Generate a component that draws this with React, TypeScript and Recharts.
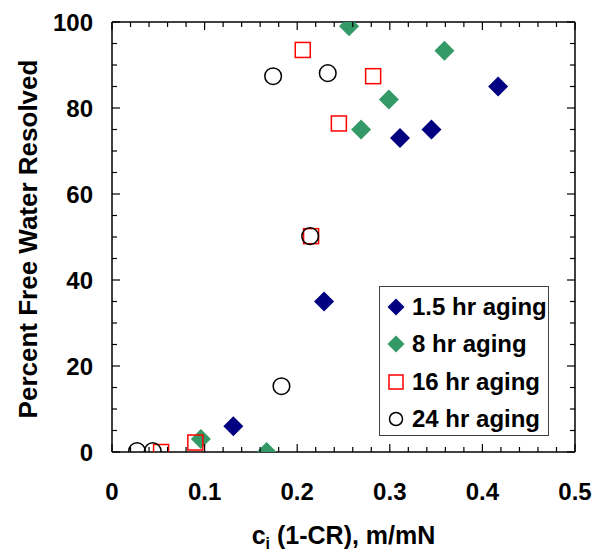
import { ScatterChart, Scatter, XAxis, YAxis, Legend } from "recharts";

const FONT = "'Liberation Sans', Arial, Helvetica, sans-serif";

// series
const names = ["1.5 hr aging", "8 hr aging", "16 hr aging", "24 hr aging"];

const aging15X = [0.131, 0.229, 0.311, 0.345, 0.417];
const aging15Y = [6, 35, 73, 75, 85];

const aging8X = [0.096, 0.167, 0.256, 0.269, 0.299, 0.359];
const aging8Y = [3, 0, 99, 75, 82, 93.3];

const aging16X = [0.053, 0.09, 0.206, 0.215, 0.245, 0.282];
const aging16Y = [0, 2.2, 93.5, 50.2, 76.4, 87.4];

const aging24X = [0.027, 0.044, 0.174, 0.183, 0.214, 0.233];
const aging24Y = [0.2, 0.2, 87.4, 15.3, 50.2, 88.1];

const xTicks = [
  0, 0.02, 0.04, 0.06, 0.08, 0.1, 0.12, 0.14, 0.16, 0.18, 0.2, 0.22, 0.24,
  0.26, 0.28, 0.3, 0.32, 0.34, 0.36, 0.38, 0.4, 0.42, 0.44, 0.46, 0.48, 0.5,
];
const xLabels = [0, 0.1, 0.2, 0.3, 0.4, 0.5];
const yTicks = [
  0, 5, 10, 15, 20, 25, 30, 35, 40, 45, 50, 55, 60, 65, 70, 75, 80, 85, 90,
  95, 100,
];
const yLabels = [0, 20, 40, 60, 80, 100];

const toPoints = (xs: number[], ys: number[]) =>
  xs.map((x, i) => ({ x, y: ys[i] }));

const isLabel = (list: number[], v: number) =>
  list.some((l) => Math.abs(l - v) < 1e-9);

const textStyle = {
  fontFamily: FONT,
  fontWeight: 700,
  fill: "#000",
};

// ---- markers ----
const diamond = (color: string, r: number) => (props: any) => {
  const { cx, cy } = props;
  return (
    <polygon
      points={`${cx},${cy - r} ${cx + r},${cy} ${cx},${cy + r} ${cx - r},${cy}`}
      fill={color}
    />
  );
};

const square = (color: string, h: number) => (props: any) => {
  const { cx, cy } = props;
  return (
    <rect
      x={cx - h}
      y={cy - h}
      width={h * 2}
      height={h * 2}
      fill="none"
      stroke={color}
      strokeWidth={1.5}
    />
  );
};

const circle = (color: string, r: number) => (props: any) => {
  const { cx, cy } = props;
  return (
    <circle cx={cx} cy={cy} r={r} fill="none" stroke={color} strokeWidth={1.5} />
  );
};

const series = [
  { name: names[0], data: toPoints(aging15X, aging15Y), color: "#000080", shape: diamond("#000080", 10), legend: diamond("#000080", 8.5) },
  { name: names[1], data: toPoints(aging8X, aging8Y), color: "#339966", shape: diamond("#339966", 10), legend: diamond("#339966", 8.5) },
  { name: names[2], data: toPoints(aging16X, aging16Y), color: "#ff0000", shape: square("#ff0000", 7.5), legend: square("#ff0000", 7) },
  { name: names[3], data: toPoints(aging24X, aging24Y), color: "#000000", shape: circle("#000000", 8.3), legend: circle("#000000", 6.5) },
];

// ---- ticks, all drawn inward ----
const BottomTick = (props: any) => {
  const { x, y, payload } = props;
  const major = isLabel(xLabels, payload.value);
  return (
    <g>
      <line x1={x} x2={x} y1={y} y2={y - (major ? 8 : 5)} stroke="#000" strokeWidth={1.2} />
      {major && (
        <text x={x} y={y + 48} textAnchor="middle" fontSize={24} {...textStyle}>
          {String(payload.value)}
        </text>
      )}
    </g>
  );
};

const TopTick = (props: any) => {
  const { x, y, payload } = props;
  const major = isLabel(xLabels, payload.value);
  return <line x1={x} x2={x} y1={y} y2={y + (major ? 8 : 5)} stroke="#000" strokeWidth={1.2} />;
};

const LeftTick = (props: any) => {
  const { x, y, payload } = props;
  const major = isLabel(yLabels, payload.value);
  return (
    <g>
      <line x1={x} x2={x + (major ? 8 : 5)} y1={y} y2={y} stroke="#000" strokeWidth={1.2} />
      {major && (
        <text x={x - 19} y={y + 8.5} textAnchor="end" fontSize={24} {...textStyle}>
          {String(payload.value)}
        </text>
      )}
    </g>
  );
};

const RightTick = (props: any) => {
  const { x, y, payload } = props;
  const major = isLabel(yLabels, payload.value);
  return <line x1={x} x2={x - (major ? 8 : 5)} y1={y} y2={y} stroke="#000" strokeWidth={1.2} />;
};

const XTitle = (props: any) => {
  const { viewBox } = props;
  const cx = viewBox.x + viewBox.width / 2;
  return (
    <text x={cx} y={viewBox.y + 92} textAnchor="middle" fontSize={25} {...textStyle}>
      c
      <tspan fontSize={16} dy={5}>i</tspan>
      <tspan dy={-5}> (1-CR), m/mN</tspan>
    </text>
  );
};

const YTitle = (props: any) => {
  const { viewBox } = props;
  const cx = viewBox.x + 28;
  const cy = viewBox.y + viewBox.height / 2 + 2;
  return (
    <text
      x={cx}
      y={cy}
      transform={`rotate(-90, ${cx}, ${cy})`}
      textAnchor="middle"
      dominantBaseline="central"
      fontSize={26}
      {...textStyle}
    >
      Percent Free Water Resolved
    </text>
  );
};

const LegendBox = (props: any) => {
  const shown = new Set((props.payload || []).map((p: any) => p.value));
  return (
    <div
      style={{
        width: 170,
        height: 150,
        boxSizing: "border-box",
        border: "1.5px solid #404040",
        background: "#fff",
        paddingTop: 1,
        fontFamily: FONT,
        fontWeight: 700,
        fontSize: 24,
        color: "#000",
      }}
    >
      {series
        .filter((s) => shown.size === 0 || shown.has(s.name))
        .map((s) => {
          const Mark = s.legend;
          return (
            <div key={s.name} style={{ display: "flex", alignItems: "center", height: 37.5 }}>
              <svg width={20} height={20} style={{ marginLeft: 6, flex: "none" }}>
                <Mark cx={10} cy={10} />
              </svg>
              <span style={{ marginLeft: 6, whiteSpace: "nowrap", lineHeight: "24px" }}>{s.name}</span>
            </div>
          );
        })}
    </div>
  );
};

export default function App() {
  return (
    <div style={{ position: "absolute", left: 0, top: 0, width: 593, height: 552, background: "#fff" }}>
      <ScatterChart width={593} height={552} margin={{ top: 21, right: 17, bottom: 0, left: 0 }}>
        <XAxis
          xAxisId={0}
          type="number"
          dataKey="x"
          domain={[0, 0.5]}
          ticks={xTicks}
          interval={0}
          height={100}
          tickSize={0}
          tickMargin={0}
          tickLine={false}
          axisLine={{ stroke: "#000", strokeWidth: 1.5 }}
          tick={<BottomTick />}
          allowDataOverflow
          label={{ content: <XTitle /> }}
        />
        <XAxis
          xAxisId="top"
          orientation="top"
          type="number"
          dataKey="x"
          domain={[0, 0.5]}
          ticks={xTicks}
          interval={0}
          height={1}
          tickSize={0}
          tickMargin={0}
          tickLine={false}
          axisLine={{ stroke: "#000", strokeWidth: 1.5 }}
          tick={<TopTick />}
          allowDataOverflow
        />
        <YAxis
          yAxisId={0}
          type="number"
          dataKey="y"
          domain={[0, 100]}
          ticks={yTicks}
          interval={0}
          width={112}
          tickSize={0}
          tickMargin={0}
          tickLine={false}
          axisLine={{ stroke: "#000", strokeWidth: 1.5 }}
          tick={<LeftTick />}
          allowDataOverflow
          label={{ content: <YTitle /> }}
        />
        <YAxis
          yAxisId="right"
          orientation="right"
          type="number"
          dataKey="y"
          domain={[0, 100]}
          ticks={yTicks}
          interval={0}
          width={1}
          tickSize={0}
          tickMargin={0}
          tickLine={false}
          axisLine={{ stroke: "#000", strokeWidth: 1.5 }}
          tick={<RightTick />}
          allowDataOverflow
        />
        {series.map((s) => (
          <Scatter
            key={s.name}
            name={s.name}
            data={s.data}
            fill={s.color}
            xAxisId={0}
            yAxisId={0}
            shape={s.shape}
            isAnimationActive={false}
          />
        ))}
        <Legend
          layout="horizontal"
          verticalAlign="middle"
          align="center"
          content={<LegendBox />}
          wrapperStyle={{ position: "absolute", left: 379, top: 286, width: 170, height: 150 }}
        />
      </ScatterChart>
    </div>
  );
}
